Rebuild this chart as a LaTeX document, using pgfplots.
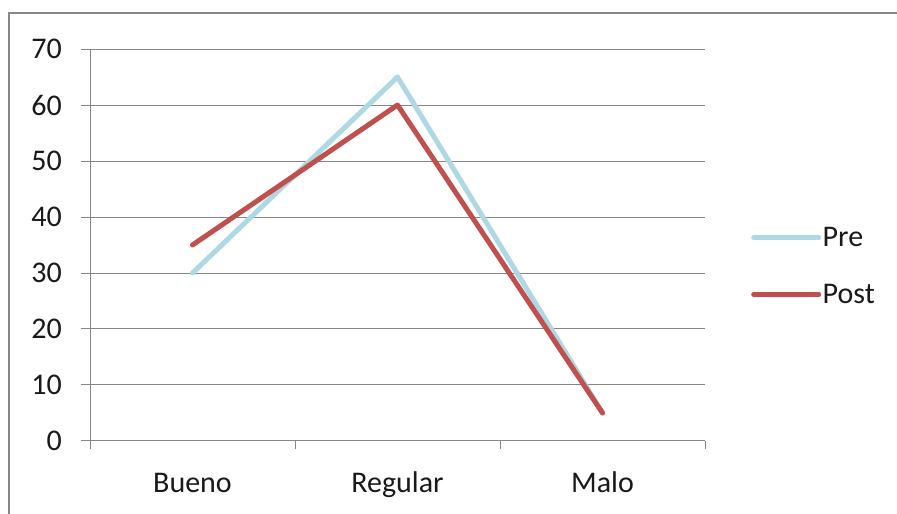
\documentclass[border=0pt]{standalone}
\usepackage{fontspec}
\setmainfont{Carlito}
\usepackage{pgfplots}
\pgfplotsset{compat=1.18}
\definecolor{preblue}{RGB}{174,216,228}
\definecolor{postred}{RGB}{192,80,77}
\definecolor{gridgray}{RGB}{134,134,134}
\definecolor{framegray}{RGB}{135,135,135}
\begin{document}
\begin{tikzpicture}
\useasboundingbox (0,0) rectangle (897bp,514bp);
\draw[framegray, line width=2.2bp] (9bp,-20bp) -- (9bp,501bp) -- (920bp,501bp);
\begin{axis}[
  at={(90bp,73bp)}, anchor=south west,
  scale only axis, width=615bp, height=392bp,
  xmin=-0.5, xmax=2.5, ymin=0, ymax=70,
  axis x line*=bottom, axis y line*=left,
  axis line style={gridgray, line width=1bp, -},
  ytick={0,10,...,70},
  xtick={0,1,2}, xticklabels={Bueno,Regular,Malo},
  minor xtick={-0.5,0.5,1.5,2.5},
  major x tick style={draw=none},
  minor x tick style={draw=gridgray, line width=1bp},
  y tick style={gridgray, line width=1bp},
  major tick length=9bp, minor tick length=8bp,
  tick align=outside,
  ymajorgrids, grid style={gridgray, line width=1bp},
  /pgf/number format/assume math mode=true,
  tick label style={font=\fontsize{30bp}{36bp}\selectfont, text=black!90},
  yticklabel style={inner sep=0pt, anchor=east, xshift=-19bp},
  xticklabel style={inner sep=0pt, anchor=base, yshift=-42bp},
  legend style={at={(rel axis cs:1.0748,0.4464)}, anchor=west, draw=none, fill=none,
    inner sep=0pt, row sep=33bp, font=\fontsize{30bp}{36bp}\selectfont, text=black!90,
    nodes={inner sep=1.5bp}},
  legend cell align=left,
  legend image code/.code={\draw[#1] (0bp,0bp) -- (65bp,0bp);},
  clip=false,
]
\addplot[preblue, line width=5bp, line cap=round, line join=round] coordinates {(0,30) (1,65) (2,5)};
\addlegendentry{Pre}
\addplot[postred, line width=5bp, line cap=round, line join=round] coordinates {(0,35) (1,60) (2,5)};
\addlegendentry{Post}
\end{axis}
\end{tikzpicture}
\end{document}
